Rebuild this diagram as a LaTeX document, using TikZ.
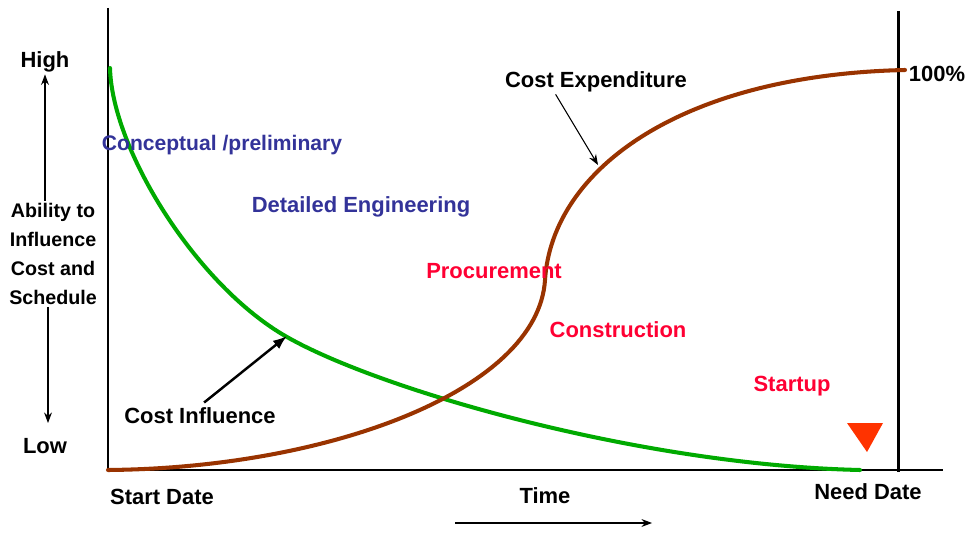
\documentclass[tikz,border=0pt]{standalone}
\usepackage{fontspec}
\setmainfont{Liberation Sans}
\usepackage{tikz}
\usetikzlibrary{arrows.meta}
\definecolor{phaseblue}{RGB}{51,51,153}
\definecolor{phasered}{RGB}{255,0,51}
\definecolor{influencegreen}{RGB}{0,170,0}
\definecolor{expenditurebrown}{RGB}{153,51,0}
\definecolor{needred}{RGB}{255,51,0}

\begin{document}
\begin{tikzpicture}[x=0.02cm, y=-0.02cm,
  every node/.style={font=\fontsize{12.5}{16.5}\selectfont\bfseries, inner sep=1pt},
  axisline/.style={line width=1.7pt},
  costcurve/.style={line width=2.3pt, line cap=round},
  bluephase/.style={text=phaseblue},
  redphase/.style={text=phasered},
  pointer/.style={-{Stealth[length=6pt, width=4.5pt]}, line width=0.6pt}]
  \useasboundingbox (0,0) rectangle (969,533);

  % axes and need date line
  \draw[axisline] (108,8) -- (108,470) -- (943,470);
  \draw[axisline] (898,11) -- (898,472);

  % curves
  \draw[costcurve, influencegreen] (110,68) .. controls (112,150) and (197,286) .. (287,337)
    .. controls (380,390) and (640,465) .. (860,470);
  \draw[costcurve, expenditurebrown] (108,470) .. controls (330,468) and (538,390) .. (545,280)
    .. controls (552,170) and (680,75) .. (905,70);

  % need date marker
  \fill[needred] (847,423) -- (883,423) -- (867,452) -- cycle;

  % left scale
  \draw (45,62) node (high) {High};
  \draw (53,254) node [align=center, font=\fontsize{11.2}{16.5}\selectfont\bfseries] (ability)
    {Ability to\\Influence\\Cost and\\Schedule};
  \draw (45,446) node (low) {Low};
  \coordinate (lowtip) at (48,423);
  \draw[pointer] (ability.north -| high.south) -- (high.south);
  \draw[pointer] (ability.south -| lowtip) -- (lowtip);

  % time axis labels
  \draw (108,497) node [anchor=west] (start) {Start Date};
  \draw (545,496) node (time) {Time};
  \draw (868,492) node (need) {Need Date};
  \coordinate (timefrom) at (455,523);
  \coordinate (timeto) at (652,523);
  \draw[pointer] (timefrom) -- (timeto);

  % curve labels
  \draw (937,74) node (full) {100\%};
  \draw (596,82) node (costexp) {Cost Expenditure};
  \coordinate (costexptip) at (598,165);
  \draw[pointer] ([xshift=-23pt]costexp.south) -- (costexptip);
  \draw (200,416) node (costinf) {Cost Influence};
  \coordinate (costinftip) at (287,336);
  \draw[-{Latex[length=8pt, width=6pt]}, line width=1.4pt, shorten <=3pt] (costinf.north) -- (costinftip);

  % phases
  \draw (222,145) node [bluephase, font=\fontsize{12}{16}\selectfont\bfseries] (concept) {Conceptual /preliminary};
  \draw (361,207) node [bluephase] (detail) {Detailed Engineering};
  \draw (494,271) node [redphase] (procure) {Procurement};
  \draw (618,330) node [redphase] (construct) {Construction};
  \draw (792,386) node [redphase] (startup) {Startup};
\end{tikzpicture}
\end{document}
